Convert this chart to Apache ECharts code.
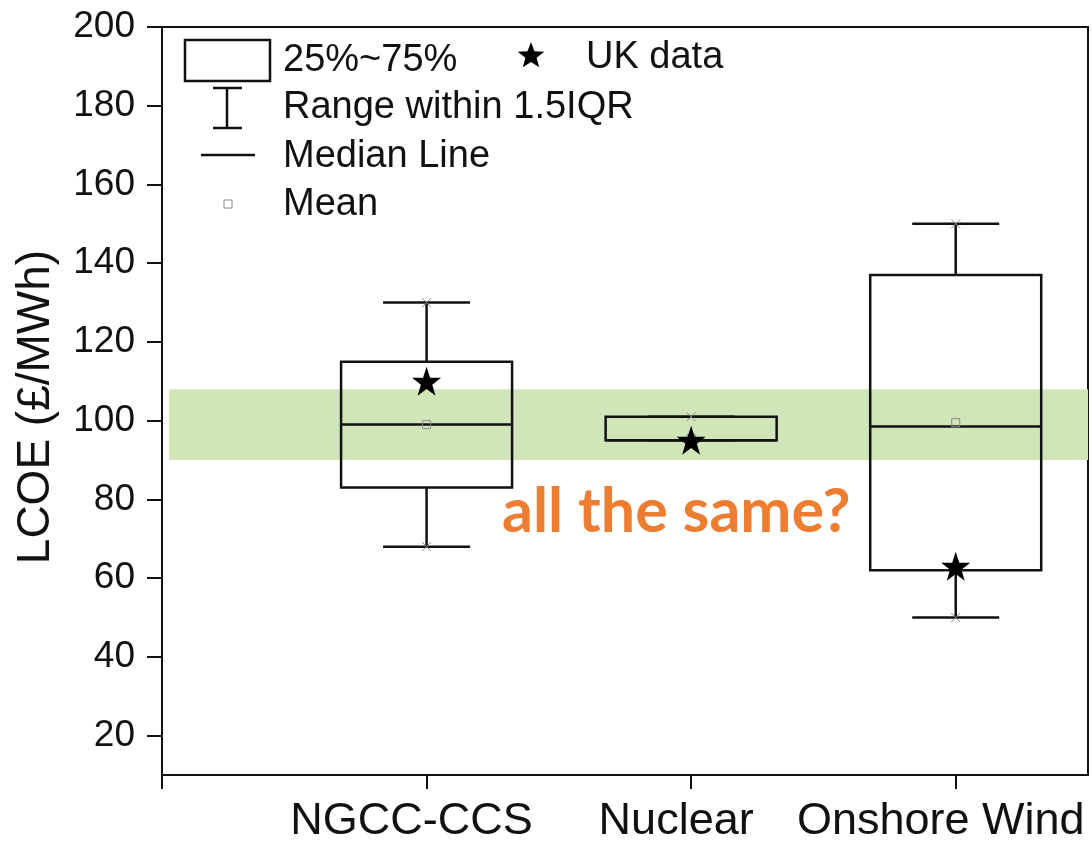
<!DOCTYPE html>
<html>
<head>
<meta charset="utf-8">
<script src="https://cdn.jsdelivr.net/npm/echarts@6/dist/echarts.min.js"></script>
<style>
html,body{margin:0;padding:0;background:#fff;}
#chart{width:1092px;height:842px;}
</style>
</head>
<body>
<div id="chart"></div>
<script>
// ---- data ----
const categories = ['NGCC-CCS', 'Nuclear', 'Onshore Wind'];
const catPos = [1, 2, 3];
const whiskerLow = [68, 95, 50];
const q1 = [83, 95, 62];
const median = [99, 95, 98.5];
const q3 = [115, 101, 137];
const whiskerHigh = [130, 101, 150];
const mean = [99, 95.5, 99.5];
const ukData = [110, 95, 63];
const yTicks = [20, 40, 60, 80, 100, 120, 140, 160, 180, 200];
const band = [90, 108];
const annotation = 'all the same?';

// ---- styles ----
const FONT = "'Liberation Sans', Arial, sans-serif";
const INK = '#111';
const BOX_W = 171, CAP_W = 87;
const STAR = 'path://M50,2 L61.5,36 L97,36 L68.5,57.5 L79,92 L50,71 L21,92 L31.5,57.5 L3,36 L38.5,36 Z';

function starPoints(cx, cy, R) {
  const pts = [];
  const r = R * 0.42;
  for (let k = 0; k < 10; k++) {
    const a = -Math.PI / 2 + k * Math.PI / 5;
    const rad = k % 2 === 0 ? R : r;
    pts.push([cx + rad * Math.cos(a), cy + rad * Math.sin(a)]);
  }
  return pts;
}

const boxData = catPos.map((p, i) => [p, whiskerLow[i], q1[i], median[i], q3[i], whiskerHigh[i], mean[i]]);
const starData = catPos.map((p, i) => [p, ukData[i]]);

function crossMark(cx, cy, s) {
  return [
    {type: 'line', shape: {x1: cx - s, y1: cy - s, x2: cx + s, y2: cy + s}, style: {stroke: '#8a8a8a', lineWidth: 1}},
    {type: 'line', shape: {x1: cx - s, y1: cy + s, x2: cx + s, y2: cy - s}, style: {stroke: '#8a8a8a', lineWidth: 1}}
  ];
}

function renderBox(params, api) {
  const x = api.value(0);
  const pLo = api.coord([x, api.value(1)]);
  const pQ1 = api.coord([x, api.value(2)]);
  const pMed = api.coord([x, api.value(3)]);
  const pQ3 = api.coord([x, api.value(4)]);
  const pHi = api.coord([x, api.value(5)]);
  const pMean = api.coord([x, api.value(6)]);
  const cx = pMed[0];
  const ls = {stroke: INK, lineWidth: 2.5, fill: null};
  const ch = [];
  ch.push({type: 'line', shape: {x1: cx, y1: pQ1[1], x2: cx, y2: pLo[1]}, style: ls});
  ch.push({type: 'line', shape: {x1: cx, y1: pQ3[1], x2: cx, y2: pHi[1]}, style: ls});
  ch.push({type: 'line', shape: {x1: cx - CAP_W / 2, y1: pLo[1], x2: cx + CAP_W / 2, y2: pLo[1]}, style: ls});
  ch.push({type: 'line', shape: {x1: cx - CAP_W / 2, y1: pHi[1], x2: cx + CAP_W / 2, y2: pHi[1]}, style: ls});
  ch.push({type: 'rect', shape: {x: cx - BOX_W / 2, y: pQ3[1], width: BOX_W, height: pQ1[1] - pQ3[1]}, style: {stroke: INK, lineWidth: 2.5, fill: 'none'}});
  ch.push({type: 'line', shape: {x1: cx - BOX_W / 2, y1: pMed[1], x2: cx + BOX_W / 2, y2: pMed[1]}, style: ls});
  ch.push({type: 'rect', shape: {x: cx - 4, y: pMean[1] - 4, width: 8, height: 8}, style: {stroke: '#8a8a8a', lineWidth: 1, fill: 'none'}});
  crossMark(cx, pHi[1], 4.5).forEach(c => ch.push(c));
  crossMark(cx, pLo[1], 4.5).forEach(c => ch.push(c));
  return {type: 'group', children: ch};
}

const chart = echarts.init(document.getElementById('chart'), null, {renderer: 'canvas'});

const legendX = 283;
const legendFont = '38px ' + FONT;

chart.setOption({
  animation: false,
  backgroundColor: '#fff',
  grid: {left: 162, right: 4, top: 27, bottom: 67, show: true, borderColor: INK, borderWidth: 2,
         backgroundColor: 'transparent', containLabel: false, outerBoundsMode: 'none'},
  xAxis: {
    type: 'value', min: 0, max: 3.5,
    splitLine: {show: false},
    axisLine: {show: true, lineStyle: {color: INK, width: 2}},
    axisTick: {show: true, length: 14, lineStyle: {color: INK, width: 2}, customValues: [0].concat(catPos)},
    axisLabel: {customValues: catPos, formatter: v => categories[Math.round(v) - 1] || '', fontSize: 45, fontFamily: FONT, color: '#111', margin: 24, hideOverlap: false, padding: [0, 30, 0, 0]}
  },
  yAxis: {
    type: 'value', min: 10, max: 200,
    name: 'LCOE (£/MWh)', nameLocation: 'middle', nameRotate: 90, nameGap: 103,
    nameTextStyle: {fontSize: 46, fontFamily: FONT, color: '#111', padding: [0, 12, 0, 0]},
    splitLine: {show: false},
    axisLine: {show: true, lineStyle: {color: INK, width: 2}},
    axisTick: {show: true, length: 15, lineStyle: {color: INK, width: 2}, customValues: yTicks},
    axisLabel: {customValues: yTicks, fontSize: 37, fontFamily: FONT, color: '#111', margin: 27}
  },
  series: [
    {
      type: 'custom', name: 'band', z: 1,
      renderItem: () => null, data: [],
      markArea: {silent: true, itemStyle: {color: '#d0e6b9'}, data: [[{xAxis: 0.027, yAxis: band[0]}, {xAxis: 3.5, yAxis: band[1]}]]}
    },
    {
      type: 'custom', name: 'box', z: 3,
      renderItem: renderBox,
      encode: {x: 0, y: [1, 2, 3, 4, 5]},
      data: boxData
    },
    {
      type: 'scatter', name: 'UK data', z: 5,
      symbol: STAR, symbolSize: 29,
      itemStyle: {color: '#000', opacity: 1},
      data: starData
    }
  ],
  graphic: [
    {type: 'rect', shape: {x: 185, y: 40, width: 85, height: 41}, style: {stroke: INK, lineWidth: 2.5, fill: 'none'}},
    {type: 'text', x: legendX, y: 61, style: {text: '25%~75%', font: legendFont, fill: '#111', verticalAlign: 'middle'}},
    {type: 'line', shape: {x1: 227, y1: 88, x2: 227, y2: 128}, style: {stroke: INK, lineWidth: 2.5}},
    {type: 'line', shape: {x1: 213, y1: 88, x2: 242, y2: 88}, style: {stroke: INK, lineWidth: 2.5}},
    {type: 'line', shape: {x1: 213, y1: 128, x2: 242, y2: 128}, style: {stroke: INK, lineWidth: 2.5}},
    {type: 'text', x: legendX, y: 108, style: {text: 'Range within 1.5IQR', font: legendFont, fill: '#111', verticalAlign: 'middle'}},
    {type: 'line', shape: {x1: 201, y1: 155, x2: 255, y2: 155}, style: {stroke: INK, lineWidth: 2.5}},
    {type: 'text', x: legendX, y: 157, style: {text: 'Median Line', font: legendFont, fill: '#111', verticalAlign: 'middle'}},
    {type: 'rect', shape: {x: 224, y: 200, width: 8, height: 8}, style: {stroke: '#8a8a8a', lineWidth: 1, fill: 'none'}},
    {type: 'text', x: legendX, y: 205, style: {text: 'Mean', font: legendFont, fill: '#111', verticalAlign: 'middle'}},
    {type: 'polygon', shape: {points: starPoints(531, 56, 14)}, style: {fill: '#000'}},
    {type: 'text', x: 586, y: 58, style: {text: 'UK data', font: legendFont, fill: '#111', verticalAlign: 'middle'}},
    {type: 'text', x: 502, y: 512, z: 10, style: {text: annotation, font: 'bold 61px Lato, "Open Sans", sans-serif', fill: '#ED7D31', verticalAlign: 'middle'}}
  ]
});
</script>
</body>
</html>
